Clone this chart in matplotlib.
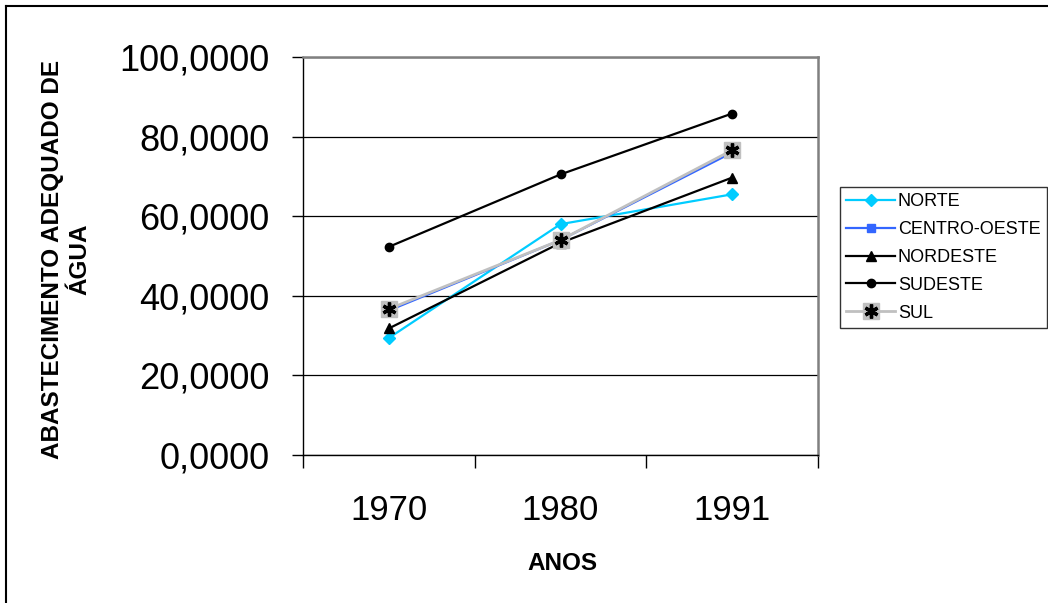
import matplotlib
matplotlib.use("Agg")
import matplotlib.pyplot as plt
from matplotlib.lines import Line2D
from matplotlib.legend_handler import HandlerTuple
from matplotlib.ticker import FuncFormatter, FixedLocator

plt.rcParams['font.family'] = ['Liberation Sans', 'DejaVu Sans']

# data
anos = ["1970", "1980", "1991"]
norte = [29.4, 58.0, 65.5]
centro_oeste = [36.3, 54.0, 76.0]
nordeste = [31.8, 53.3, 69.7]
sudeste = [52.3, 70.5, 85.8]
sul = [36.7, 54.0, 76.6]

W, H = 1048, 603
fig = plt.figure(figsize=(W / 100, H / 100), dpi=100)
ax = fig.add_axes([303 / W, (H - 455) / H, (818 - 303) / W, (455 - 57) / H])

x = list(range(len(anos)))
l1, = ax.plot(x, norte, color='#00ccff', lw=1.6, marker='D', ms=6, label='NORTE', zorder=3)
l2, = ax.plot(x, centro_oeste, color='#3366ff', lw=1.6, marker='s', ms=6, label='CENTRO-OESTE', zorder=3)
l3, = ax.plot(x, nordeste, color='black', lw=1.6, marker='^', ms=7, label='NORDESTE', zorder=3)
l4, = ax.plot(x, sudeste, color='black', lw=1.6, marker='o', ms=6, label='SUDESTE', zorder=3)
l5, = ax.plot(x, sul, color='#c0c0c0', lw=2, marker='s', ms=12, mec='#c0c0c0', label='SUL', zorder=4)
l5b, = ax.plot(x, sul, ls='none', marker=(6, 2, 0), ms=10, mew=2.4, color='black', zorder=5)

ax.set_xlim(-0.5, 2.5)
ax.set_ylim(0, 100)
ax.set_yticks(range(0, 101, 20))
ax.yaxis.set_major_formatter(FuncFormatter(lambda v, p: f"{v:.4f}".replace('.', ',')))
ax.set_xticks(x)
ax.set_xticklabels(anos)
ax.xaxis.set_minor_locator(FixedLocator([-0.5, 0.5, 1.5, 2.5]))
ax.tick_params(axis='x', which='major', length=0, pad=28, labelsize=25)
ax.tick_params(axis='x', which='minor', length=9, width=1, direction='out')
ax.tick_params(axis='y', length=8, width=1, pad=16, labelsize=26, direction='out')

ax.grid(axis='y', color='black', lw=0.9, zorder=1)
ax.set_axisbelow(True)
for s in ('top', 'right'):
    ax.spines[s].set_color('#808080')
    ax.spines[s].set_linewidth(1.8)
ax.spines['left'].set_linewidth(1)
ax.spines['bottom'].set_linewidth(1)

fig.text(66 / W, 1 - 259 / H, "ABASTECIMENTO ADEQUADO DE\nÁGUA", rotation=90,
         ha='center', va='center', multialignment='center', fontsize=17.5,
         fontweight='bold', linespacing=1.25)
fig.text(562 / W, 1 - 563 / H, "ANOS", ha='center', va='center', fontsize=17.5, fontweight='bold')

leg = fig.legend([l1, l2, l3, l4, (l5, l5b)], ['NORTE', 'CENTRO-OESTE', 'NORDESTE', 'SUDESTE', 'SUL'],
                 handler_map={tuple: HandlerTuple(ndivide=1)},
                 loc='upper left', bbox_to_anchor=(840 / W, 1 - 187 / H),
                 fontsize=13, frameon=True, fancybox=False, edgecolor='black',
                 borderaxespad=0, handlelength=2.7, handletextpad=0.15,
                 labelspacing=0.6, borderpad=0.35)
leg.get_frame().set_linewidth(1)

# figure border (left and top only visible)
fig.add_artist(Line2D([6 / W, 6 / W], [0, 1 - 6 / H], color='black', lw=1.5))
fig.add_artist(Line2D([6 / W, 1], [1 - 6 / H, 1 - 6 / H], color='black', lw=1.5))

fig.savefig("out.png", dpi=100)
